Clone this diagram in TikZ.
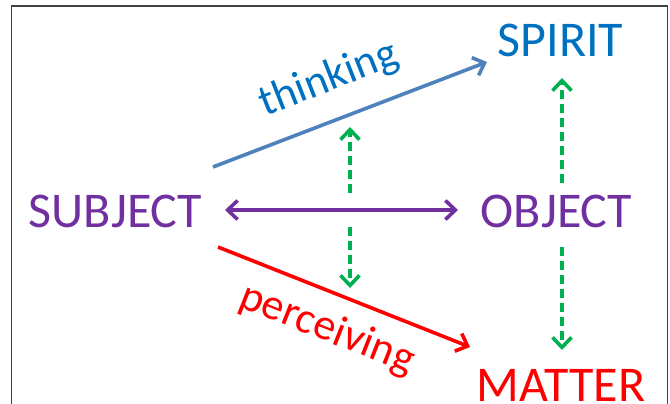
\documentclass[tikz,border=0pt]{standalone}
\usepackage{fontspec}
\setmainfont{Carlito}
\usetikzlibrary{arrows.meta}
\definecolor{txtblue}{HTML}{0070C0}
\definecolor{arrblue}{HTML}{4F81BD}
\definecolor{mypurple}{HTML}{7030A0}
\definecolor{myred}{HTML}{FF0000}
\definecolor{mygreen}{HTML}{00B050}
\definecolor{framegray}{HTML}{404040}
\tikzset{
  bigword/.style={inner sep=0pt, anchor=base, font=\fontsize{50}{60}\selectfont},
  smallword/.style={inner sep=0pt, anchor=base, font=\fontsize{44}{52}\selectfont},
  tipbarb/.tip={Straight Barb[length=10pt,width=19pt]},
  conn/.style={line width=3.6pt, -tipbarb, line cap=butt, line join=round},
  dconn/.style={line width=3.6pt, tipbarb-tipbarb},
  gconn/.style={conn, draw=mygreen, dash pattern=on 9pt off 5pt},
  frameline/.style={draw=framegray, line width=1.5pt}
}
\begin{document}
\begin{tikzpicture}[x=1pt,y=-1pt]
\useasboundingbox (0,0) rectangle (670,404);
\draw[frameline] (11.5,404) -- (11.5,6) -- (667.5,6) -- (667.5,404);

\node[bigword, text=txtblue] (spirit) at (560.5,57) {SPIRIT};
\node[bigword, text=mypurple] (subject) at (115.5,227) {SUBJECT};
\node[bigword, text=mypurple] (object) at (556.5,227) {OBJECT};
\node[bigword, text=myred] (matter) at (561,401) {MATTER};

\node[smallword, text=txtblue, rotate=21.5] (thinking) at (333,90) {thinking};
\node[smallword, text=myred, rotate=-21.5] (perceiving) at (323,340) {perceiving};

\coordinate (tA) at (213,167);
\coordinate (tB) at (487,62);
\coordinate (pA) at (218,247);
\coordinate (pB) at (470,347);
\coordinate (hA) at (225,210);
\coordinate (hB) at (458,210);
\coordinate (c1a) at (350,193);
\coordinate (c1b) at (350,127);
\coordinate (c2a) at (350,227);
\coordinate (c2b) at (350,288);
\coordinate (r1a) at (562,183);
\coordinate (r1b) at (562,78);
\coordinate (r2a) at (562,247);
\coordinate (r2b) at (562,350);

\draw[conn, draw=arrblue] (tA) -- (tB);
\draw[conn, draw=myred] (pA) -- (pB);
\draw[dconn, draw=mypurple] (hA) -- (hB);
\draw[gconn] (c1a) -- (c1b);
\draw[gconn] (c2a) -- (c2b);
\draw[gconn] (r1a) -- (r1b);
\draw[gconn] (r2a) -- (r2b);
\end{tikzpicture}
\end{document}
